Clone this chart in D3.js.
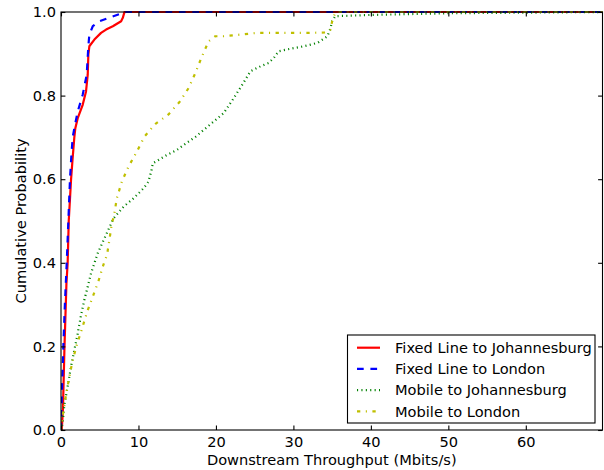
<!DOCTYPE html>
<html>
<head>
<meta charset="utf-8">
<script src="https://cdn.jsdelivr.net/npm/d3@7"></script>
<style>
  body { margin: 0; background: #fff; }
  text { font-family: "DejaVu Sans", sans-serif; fill: #000; }
</style>
</head>
<body>
<div id="chart"></div>
<script>

// CDF points, [throughput Mbit/s, cumulative probability]
var fixedJohannesburg = [[0.1,0],[0.25,0.05],[0.45,0.2],[0.7,0.35],[0.86,0.4],[1.0,0.5],[1.15,0.55],
  [1.3,0.6],[1.5,0.65],[1.72,0.7],[1.85,0.722],[2.16,0.746],[2.8,0.778],[3.23,0.81],[3.45,0.85],
  [3.53,0.898],[3.66,0.918],[4.31,0.934],[5.17,0.95],[5.82,0.958],[6.69,0.966],[7.76,0.978],
  [7.98,0.986],[8.19,1.0],[69.9,1.0]]

var fixedLondon = [[0,0],[0.1,0.08],[0.3,0.2],[0.5,0.3],[0.74,0.4],[0.95,0.5],[1.16,0.6],[1.35,0.66],
  [1.51,0.7],[1.72,0.722],[2.16,0.762],[2.8,0.802],[3.32,0.85],[3.53,0.918],[3.66,0.946],[4.1,0.966],
  [4.96,0.978],[6.47,0.988],[7.98,0.998],[8.4,1.0],[69.9,1.0]]

var mobileJohannesburg = [[0,0],[0.22,0.017],[0.43,0.06],[0.86,0.104],[1.29,0.151],[1.72,0.191],
  [2.16,0.231],[2.59,0.275],[3.01,0.311],[3.45,0.343],[3.88,0.375],[4.31,0.399],[4.74,0.423],
  [5.69,0.462],[6.77,0.506],[8.06,0.534],[9.35,0.554],[10.65,0.578],[11.29,0.594],[11.64,0.618],
  [11.86,0.638],[12.59,0.646],[13.67,0.658],[14.97,0.67],[16.0,0.684],[17.4,0.702],[19.2,0.73],
  [21.0,0.758],[22.3,0.794],[23.4,0.826],[24.45,0.858],[25.74,0.87],[26.8,0.878],[27.47,0.89],
  [28.1,0.906],[29.6,0.912],[31.35,0.918],[33.1,0.926],[34.4,0.942],[34.8,0.962],[35.0,0.978],
  [35.4,0.99],[40,0.993],[50,0.997],[69.9,1.0]]

var mobileLondon = [[0,0],[0.13,0.024],[0.65,0.084],[1.08,0.128],[1.51,0.167],[2.03,0.203],
  [2.72,0.243],[3.36,0.282],[4.1,0.319],[4.83,0.356],[5.47,0.395],[5.95,0.42],[6.25,0.455],
  [6.56,0.494],[6.86,0.514],[7.2,0.554],[7.85,0.594],[8.71,0.63],[9.79,0.666],[10.78,0.702],
  [12.16,0.732],[13.88,0.755],[15.35,0.786],[16.47,0.818],[17.34,0.854],[18.2,0.894],[18.63,0.912],
  [19.06,0.93],[19.92,0.942],[21.0,0.942],[23.2,0.946],[25.3,0.95],[27.5,0.95],[29.6,0.95],
  [32,0.95],[34.15,0.951],[34.8,0.958],[35.0,0.978],[35.1,0.986],[35.5,1.0],[69.9,1.0]]

var seriesNames = ['Fixed Line to Johannesburg', 'Fixed Line to London',
  'Mobile to Johannesburg', 'Mobile to London']
var seriesData = [fixedJohannesburg, fixedLondon, mobileJohannesburg, mobileLondon]
var seriesColors = ['#ff0000', '#0000ff', '#008000', '#bfbf00']
var seriesDashes = [null, '6.7,6.7', '1.1,3.3', '3.3,5.5,1.1,5.5']

var xTicks = [0, 10, 20, 30, 40, 50, 60]
var yTicks = [0, 0.2, 0.4, 0.6, 0.8, 1.0]

var width = 604
var height = 470
var pLeft = 61, pRight = 602.5, pTop = 12, pBottom = 430
var fontSize = '14.6px'

var svg = d3.select('#chart').append('svg')
  .attr('width', width)
  .attr('height', height)

var x = d3.scaleLinear().domain([0, 69.9]).range([pLeft, pRight])
var y = d3.scaleLinear().domain([0, 1]).range([pBottom, pTop])

var line = d3.line()
  .x(function(d) { return x(d[0]) })
  .y(function(d) { return y(d[1]) })

svg.append('clipPath').attr('id', 'clip')
  .append('rect')
  .attr('x', pLeft).attr('y', pTop - 2)
  .attr('width', pRight - pLeft).attr('height', pBottom - pTop + 4)

var plot = svg.append('g').attr('clip-path', 'url(#clip)')

seriesData.forEach(function(d, i) {
  plot.append('path')
    .datum(d)
    .attr('d', line)
    .attr('fill', 'none')
    .attr('stroke', seriesColors[i])
    .attr('stroke-width', 2.2)
    .attr('stroke-dasharray', seriesDashes[i])
    .attr('stroke-linejoin', 'round')
})

// frame
svg.append('rect')
  .attr('x', pLeft).attr('y', pTop)
  .attr('width', pRight - pLeft).attr('height', pBottom - pTop)
  .attr('fill', 'none')
  .attr('stroke', '#000')
  .attr('stroke-width', 1.1)

// axes, ticks pointing inward on every side
var tl = 4.4
svg.append('g')
  .attr('transform', 'translate(0,' + pBottom + ')')
  .call(d3.axisBottom(x).tickValues(xTicks).tickSizeInner(-tl).tickSizeOuter(0).tickPadding(6.6)
    .tickFormat(d3.format('d')))
svg.append('g')
  .attr('transform', 'translate(0,' + pTop + ')')
  .call(d3.axisTop(x).tickValues(xTicks).tickSizeInner(-tl).tickSizeOuter(0).tickFormat(''))
svg.append('g')
  .attr('transform', 'translate(' + pLeft + ',0)')
  .call(d3.axisLeft(y).tickValues(yTicks).tickSizeInner(-tl).tickSizeOuter(0).tickPadding(5)
    .tickFormat(d3.format('.1f')))
svg.append('g')
  .attr('transform', 'translate(' + pRight + ',0)')
  .call(d3.axisRight(y).tickValues(yTicks).tickSizeInner(-tl).tickSizeOuter(0).tickFormat(''))

svg.selectAll('.domain').remove()
svg.selectAll('.tick line').attr('stroke', '#000').attr('stroke-width', 1.1)
svg.selectAll('.tick text')
  .style('font-family', '"DejaVu Sans", sans-serif')
  .style('font-size', fontSize)

// axis labels
svg.append('text')
  .attr('x', (pLeft + pRight) / 2)
  .attr('y', 465)
  .attr('text-anchor', 'middle')
  .style('font-size', fontSize)
  .text('Downstream Throughput (Mbits/s)')

svg.append('text')
  .attr('transform', 'translate(26,' + (pTop + pBottom) / 2 + ') rotate(-90)')
  .attr('text-anchor', 'middle')
  .style('font-size', fontSize)
  .text('Cumulative Probability')

// legend
var legend = svg.append('g')
legend.append('rect')
  .attr('x', 347.5).attr('y', 335)
  .attr('width', 247.5).attr('height', 88)
  .attr('fill', '#fff')
  .attr('stroke', '#000')
  .attr('stroke-width', 1.1)

seriesNames.forEach(function(name, i) {
  var cy = 347.7 + i * 21.2
  legend.append('line')
    .attr('x1', 357).attr('x2', 380)
    .attr('y1', cy).attr('y2', cy)
    .attr('stroke', seriesColors[i])
    .attr('stroke-width', 2.2)
    .attr('stroke-dasharray', seriesDashes[i])
  legend.append('text')
    .attr('x', 395)
    .attr('y', cy + 5.3)
    .style('font-size', fontSize)
    .text(name)
})

</script>
</body>
</html>
